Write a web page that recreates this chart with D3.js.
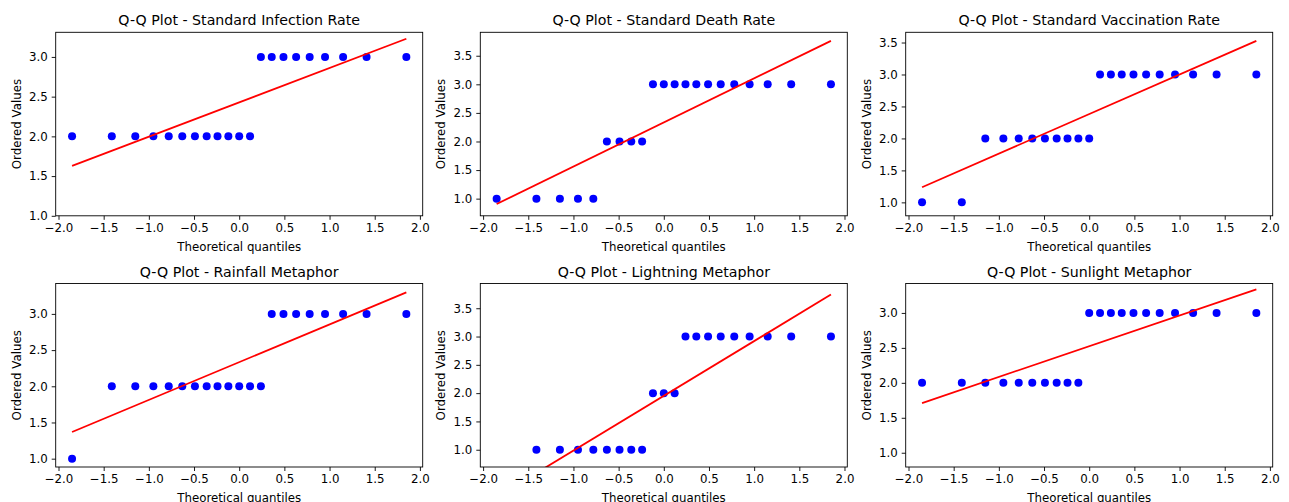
<html lang="en">
<head>
    <meta charset="UTF-8">
    <title>Q-Q Plots</title>
    <style>
        body { margin: 0; background: #ffffff; }
        text { font-family: "DejaVu Sans", sans-serif; fill: #000000; }
    </style>
</head>
<body>
<div class="chart"></div>

<script src="https://d3js.org/d3.v7.min.js"></script>
<script>
    // theoretical quantiles (n = 21)
    const quantiles = [-1.85, -1.41, -1.15, -0.95, -0.78, -0.63, -0.49, -0.36, -0.24, -0.12, 0.0,
        0.12, 0.24, 0.36, 0.49, 0.63, 0.78, 0.95, 1.15, 1.41, 1.85]

    const titles = ['Q-Q Plot - Standard Infection Rate', 'Q-Q Plot - Standard Death Rate',
        'Q-Q Plot - Standard Vaccination Rate', 'Q-Q Plot - Rainfall Metaphor',
        'Q-Q Plot - Lightning Metaphor', 'Q-Q Plot - Sunlight Metaphor']

    // ordered values per panel
    const infection   = [2, 2, 2, 2, 2, 2, 2, 2, 2, 2, 2, 2, 3, 3, 3, 3, 3, 3, 3, 3, 3]
    const death       = [1, 1, 1, 1, 1, 2, 2, 2, 2, 3, 3, 3, 3, 3, 3, 3, 3, 3, 3, 3, 3]
    const vaccination = [1, 1, 2, 2, 2, 2, 2, 2, 2, 2, 2, 3, 3, 3, 3, 3, 3, 3, 3, 3, 3]
    const rainfall    = [1, 2, 2, 2, 2, 2, 2, 2, 2, 2, 2, 2, 2, 3, 3, 3, 3, 3, 3, 3, 3]
    const lightning   = [0, 1, 1, 1, 1, 1, 1, 1, 1, 2, 2, 2, 3, 3, 3, 3, 3, 3, 3, 3, 3]
    const sunlight    = [2, 2, 2, 2, 2, 2, 2, 2, 2, 2, 3, 3, 3, 3, 3, 3, 3, 3, 3, 3, 3]
    const seriesList = [infection, death, vaccination, rainfall, lightning, sunlight]

    // visible y ranges of each panel, and tick labels
    const yDomains = [[1.0, 3.31], [0.70, 3.91], [0.79, 3.66], [0.885, 3.42], [0.695, 3.937], [0.796, 3.421]]
    const xDomain = [-2.031, 2.031]
    const xTicks = [-2.0, -1.5, -1.0, -0.5, 0.0, 0.5, 1.0, 1.5, 2.0]
    const yTicksShort = [1.0, 1.5, 2.0, 2.5, 3.0]
    const yTicksLong = [1.0, 1.5, 2.0, 2.5, 3.0, 3.5]
    const yTickSets = [yTicksShort, yTicksLong, yTicksLong, yTicksShort, yTicksLong, yTicksShort]

    const dims = { width: 1289, height: 502 }
    const colLeft = [55.7, 480.3, 905.7]
    const rowTop = [32.3, 283.5]
    const panelW = 367
    const panelH = 183.5
    const tickFont = 11.8
    const titleFont = 14.2

    const svg = d3.select('.chart')
        .append('svg')
        .attr('width', dims.width)
        .attr('height', dims.height)

    function fitLine(xs, ys) {
        const mx = d3.mean(xs), my = d3.mean(ys)
        let sxy = 0, sxx = 0
        xs.forEach((x, i) => { sxy += (x - mx) * (ys[i] - my); sxx += (x - mx) * (x - mx) })
        const slope = sxy / sxx
        return { slope: slope, intercept: my - slope * mx }
    }

    seriesList.forEach((values, k) => {
        const col = k % 3, row = Math.floor(k / 3)
        const g = svg.append('g')
            .attr('transform', 'translate(' + colLeft[col] + ',' + rowTop[row] + ')')

        const x = d3.scaleLinear().domain(xDomain).range([0, panelW])
        const y = d3.scaleLinear().domain(yDomains[k]).range([panelH, 0])

        const clipId = 'clip' + k
        g.append('clipPath').attr('id', clipId)
            .append('rect').attr('width', panelW).attr('height', panelH)

        const plot = g.append('g').attr('clip-path', 'url(#' + clipId + ')')

        plot.selectAll('circle')
            .data(values)
            .enter()
            .append('circle')
            .attr('cx', (d, i) => x(quantiles[i]))
            .attr('cy', d => y(d))
            .attr('r', 4)
            .attr('fill', '#0000ff')

        const fit = fitLine(quantiles, values)
        const ends = [quantiles[0], quantiles[quantiles.length - 1]]
        plot.append('line')
            .attr('x1', x(ends[0]))
            .attr('y1', y(fit.intercept + fit.slope * ends[0]))
            .attr('x2', x(ends[1]))
            .attr('y2', y(fit.intercept + fit.slope * ends[1]))
            .attr('stroke', '#ff0000')
            .attr('stroke-width', 1.8)

        // axes
        const fmt = d3.format('.1f')
        const xAxis = g.append('g')
            .attr('transform', 'translate(0,' + panelH + ')')
            .call(d3.axisBottom(x).tickValues(xTicks).tickSizeOuter(0).tickSize(4).tickPadding(4))
        const yAxis = g.append('g')
            .call(d3.axisLeft(y).tickValues(yTickSets[k]).tickSizeOuter(0).tickSize(4).tickPadding(4))
        ;[xAxis, yAxis].forEach(a => {
            a.select('.domain').remove()
            a.selectAll('line').attr('stroke', '#000').attr('stroke-width', 0.9)
            a.selectAll('text').attr('font-size', tickFont).attr('font-family', '"DejaVu Sans", sans-serif').attr('fill', '#000')
        })
        xAxis.selectAll('text').text(d => fmt(d).replace('-', '\u2212'))
        yAxis.selectAll('text').text(d => fmt(d))

        // frame
        g.append('rect')
            .attr('width', panelW)
            .attr('height', panelH)
            .attr('fill', 'none')
            .attr('stroke', '#000')
            .attr('stroke-width', 0.9)

        g.append('text')
            .attr('x', panelW / 2)
            .attr('y', -7)
            .attr('text-anchor', 'middle')
            .attr('font-size', titleFont)
            .text(titles[k])

        g.append('text')
            .attr('x', panelW / 2)
            .attr('y', panelH + 35)
            .attr('text-anchor', 'middle')
            .attr('font-size', tickFont)
            .text('Theoretical quantiles')

        g.append('text')
            .attr('transform', 'translate(-35,' + (panelH / 2) + ') rotate(-90)')
            .attr('text-anchor', 'middle')
            .attr('font-size', tickFont)
            .text('Ordered Values')
    })
</script>
</body>
</html>
